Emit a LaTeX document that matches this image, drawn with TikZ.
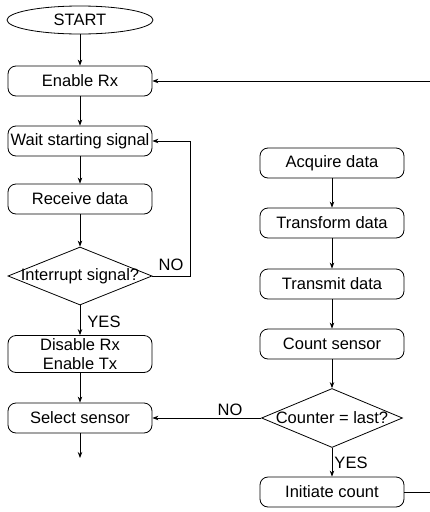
\documentclass[tikz,border=0pt]{standalone}
\usepackage{fontspec}
\setmainfont{Liberation Sans}
\usetikzlibrary{shapes.geometric,arrows.meta}
\begin{document}
\begin{tikzpicture}[x=1pt, y=-1pt, line width=0.8pt, every node/.style={font=\fontsize{16.5}{19}\selectfont},
	box/.style={draw, rounded corners=8pt, minimum width=144pt, minimum height=30pt, inner sep=0pt, align=center},
	ask/.style={draw, diamond, minimum width=144pt, minimum height=58pt, inner sep=0pt},
	arr/.style={-{Stealth[length=6pt,width=4.5pt]}}]
\useasboundingbox (0,0) rectangle (430,512);
% left column
\node[draw,ellipse,minimum width=146pt,minimum height=28pt,inner sep=0pt](start) at (80,20){START};
\node[box](rx) at (80,81){Enable Rx};
\node[box](wait) at (80,141){Wait starting signal};
\node[box](recv) at (80,199){Receive data};
\node[ask](intr) at (80,276){\makebox[0pt]{Interrupt signal?}};
\node[box,minimum height=37pt](dis) at (80,354){Disable Rx\\Enable Tx};
\node[box](sel) at (80,418){Select sensor};
\coordinate(selout) at (80,458);
% right column
\node[box](acq) at (332,163){Acquire data};
\node[box](trf) at (332,223){Transform data};
\node[box](tmt) at (332,284){Transmit data};
\node[box](cnt) at (332,344){Count sensor};
\node[ask,minimum width=141pt,minimum height=59pt](last) at (332,418){\makebox[0pt]{Counter = last?}};
\node[box](init) at (332,492){Initiate count};
\coordinate(back) at (430,81);
\coordinate(away) at (430,492);
% connectors
\draw[arr] (start) -- (rx);
\draw[arr] (rx) -- (wait);
\draw[arr] (wait) -- (recv);
\draw[arr] (recv) -- (intr);
\draw[arr] (intr.east) -- ++(38,0) |- (wait.east);
\node(no1) at (171,265){NO};
\draw[arr] (intr) -- (dis);
\node(yes1) at (104,322){YES};
\draw[arr] (dis) -- (sel);
\draw[arr] (sel) -- (selout);
\draw[arr] (back) -- (rx);
\draw[arr] (acq) -- (trf);
\draw[arr] (trf) -- (tmt);
\draw[arr] (tmt) -- (cnt);
\draw[arr] (cnt) -- (last);
\draw[arr] (last.west) -- (sel.east);
\node(no2) at (230,410){NO};
\draw[arr] (last) -- (init);
\node(yes2) at (351,463){YES};
\draw (init.east) -- (away);
\end{tikzpicture}
\end{document}
